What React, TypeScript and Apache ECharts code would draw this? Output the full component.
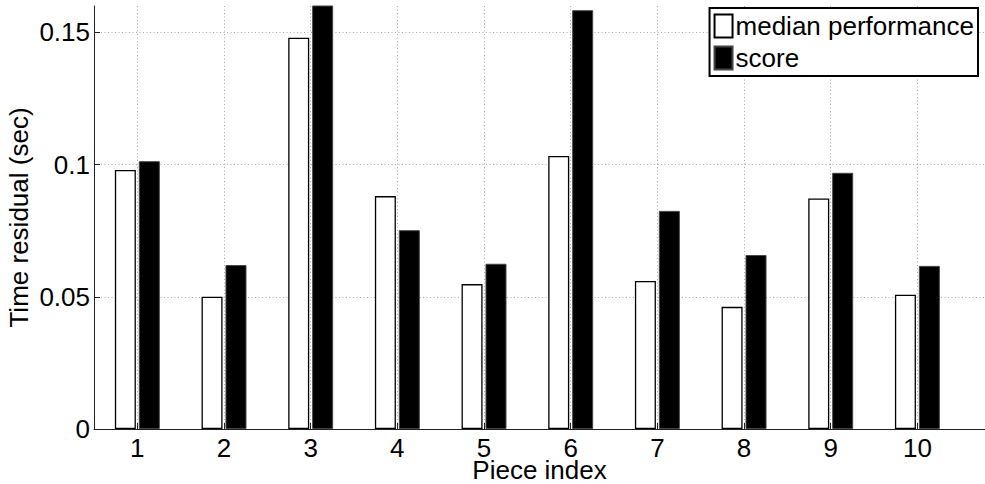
import React, { useEffect, useRef } from "react";
import * as echarts from "echarts";

// Piece indices and the two residual series (seconds)
const pieces = [1, 2, 3, 4, 5, 6, 7, 8, 9, 10];
const medianPerformance = [0.098, 0.05, 0.148, 0.0881, 0.0548, 0.1033, 0.056, 0.0462, 0.0872, 0.0508];
const score = [0.1013, 0.062, 0.162, 0.0752, 0.0625, 0.1584, 0.0825, 0.0658, 0.0969, 0.0617];
const yTicks = [0, 0.05, 0.1, 0.15];

const FONT = "'Liberation Sans', Arial, Helvetica, sans-serif";

export default function App() {
  const ref = useRef<HTMLDivElement | null>(null);

  useEffect(() => {
    if (!ref.current) return;
    const chart = echarts.init(ref.current, null, { renderer: "svg" });

    const gridLine = { show: true, lineStyle: { color: "#aaa", width: 1, type: [1, 2.5] as any } };

    chart.setOption({
      animation: false,
      backgroundColor: "#fff",
      textStyle: { fontFamily: FONT },
      grid: { left: 94, right: 0, top: 6, bottom: 55, containLabel: false, outerBoundsMode: "none" },
      legend: {
        orient: "vertical",
        right: 7,
        top: 8,
        icon: "rect",
        itemWidth: 18,
        itemHeight: 23,
        itemGap: 2,
        padding: [3, 4, 3, 4],
        borderColor: "#000",
        borderWidth: 2,
        backgroundColor: "#fff",
        selectedMode: false,
        textStyle: { fontFamily: FONT, fontSize: 26, color: "#000", lineHeight: 30, padding: [0, 0, 0, -2] },
        data: ["median performance", "score"],
      },
      xAxis: {
        type: "value",
        min: 0.5,
        max: 10.78,
        name: "Piece index",
        nameLocation: "middle",
        nameGap: 28,
        nameMoveOverlap: false,
        nameTextStyle: { fontFamily: FONT, fontSize: 26, color: "#000" },
        axisLine: { show: true, onZero: false, lineStyle: { color: "#222", width: 1 } },
        axisTick: { show: true, inside: true, length: 6, customValues: pieces, lineStyle: { color: "#222" } },
        axisLabel: { customValues: pieces, margin: 6, fontFamily: FONT, fontSize: 26, color: "#000" },
        splitLine: gridLine,
      },
      yAxis: {
        type: "value",
        min: 0,
        max: 0.16,
        name: "Time residual (sec)",
        nameLocation: "middle",
        nameGap: 62,
        nameMoveOverlap: false,
        nameTextStyle: { fontFamily: FONT, fontSize: 26, color: "#000" },
        axisLine: { show: true, lineStyle: { color: "#222", width: 1 } },
        axisTick: { show: true, inside: true, length: 6, customValues: yTicks, lineStyle: { color: "#222" } },
        axisLabel: { customValues: yTicks, margin: 4, fontFamily: FONT, fontSize: 26, color: "#000" },
        splitLine: gridLine,
      },
      series: [
        {
          name: "median performance",
          type: "bar",
          barWidth: 21,
          barGap: "14%",
          clip: true,
          itemStyle: { color: "#fff", borderColor: "#000", borderWidth: 1.3 },
          data: pieces.map((p, i) => [p, medianPerformance[i]]),
        },
        {
          name: "score",
          type: "bar",
          barWidth: 21,
          barGap: "14%",
          clip: true,
          itemStyle: { color: "#000", borderColor: "#444", borderWidth: 1 },
          data: pieces.map((p, i) => [p, score[i]]),
        },
      ],
    });

    return () => chart.dispose();
  }, []);

  return <div ref={ref} style={{ width: 985, height: 484, position: "absolute", left: 0, top: 0 }} />;
}
